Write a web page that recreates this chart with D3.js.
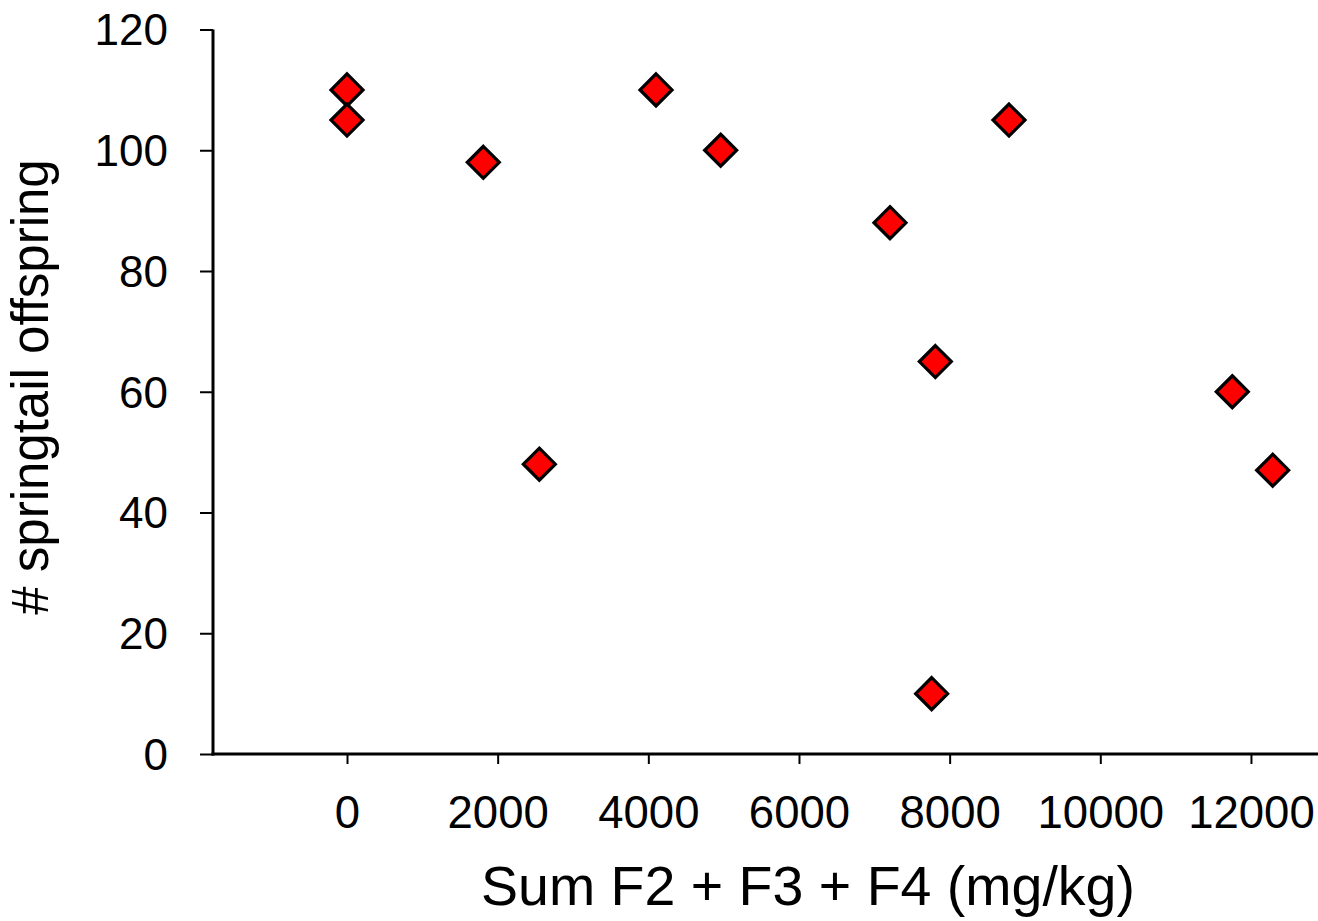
<!DOCTYPE html>
<html><head><meta charset="utf-8">
<script src="https://cdn.jsdelivr.net/npm/d3@7"></script>
<style>body{margin:0;background:#fff}svg{display:block}text{font-family:"Liberation Sans",Arial,sans-serif;fill:#000}</style>
</head><body>
<svg id="chart" width="1318" height="921"></svg>
<script>
const sumF = [0, 0, 1809, 2553, 4102, 4960, 7208, 7810, 7761, 8788, 11752, 12288];
const offspring = [110, 105, 98, 48, 110, 100, 88, 65, 10, 105, 60, 47];
const xTicks = [0, 2000, 4000, 6000, 8000, 10000, 12000];
const yTicks = [0, 20, 40, 60, 80, 100, 120];
const xTitle = "Sum F2 + F3 + F4 (mg/kg)";
const yTitle = "# springtail offspring";

const svg = d3.select("#chart");
const x = d3.scaleLinear().domain([-1779, 12890]).range([213, 1318]);
const y = d3.scaleLinear().domain([0, 120]).range([754, 29.5]);

const yAxis = svg.append("g").attr("transform", "translate(213,0)")
  .call(d3.axisLeft(y).tickValues(yTicks).tickSize(13).tickPadding(32).tickSizeOuter(0));
yAxis.select(".domain").attr("stroke-width", 3).attr("d", `M0,${y(120)}V${y(0)+1.5}`);
yAxis.selectAll(".tick line").attr("stroke-width", 2);
yAxis.selectAll(".tick text").style("font-size", "44px").attr("dy", "0.35em")
  .style("font-family", '"Liberation Sans",Arial,sans-serif');

const xAxis = svg.append("g").attr("transform", "translate(0,754)")
  .call(d3.axisBottom(x).tickValues(xTicks).tickSize(10).tickPadding(32).tickSizeOuter(0).tickFormat(d3.format("d")));
xAxis.select(".domain").attr("stroke-width", 3).attr("d", `M${213-1.5},0H1318`);
xAxis.selectAll(".tick line").attr("stroke-width", 2);
xAxis.selectAll(".tick text").style("font-size", "45.5px").attr("dy", "0.71em")
  .style("font-family", '"Liberation Sans",Arial,sans-serif');

const diamond = "M0,-16L16,0L0,16L-16,0Z";
svg.append("g").selectAll("path").data(sumF).join("path")
  .attr("d", diamond)
  .attr("transform", (d, i) => `translate(${x(d)},${y(offspring[i])})`)
  .attr("fill", "#ff0000").attr("stroke", "#000").attr("stroke-width", 3.2)
  .attr("stroke-linejoin", "miter");

svg.append("text").attr("x", 808).attr("y", 905).attr("text-anchor", "middle")
  .style("font-size", "55.5px").text(xTitle);
svg.append("text").attr("transform", "translate(48,387) rotate(-90)").attr("text-anchor", "middle")
  .style("font-size", "51px").text(yTitle);
</script>
</body></html>
